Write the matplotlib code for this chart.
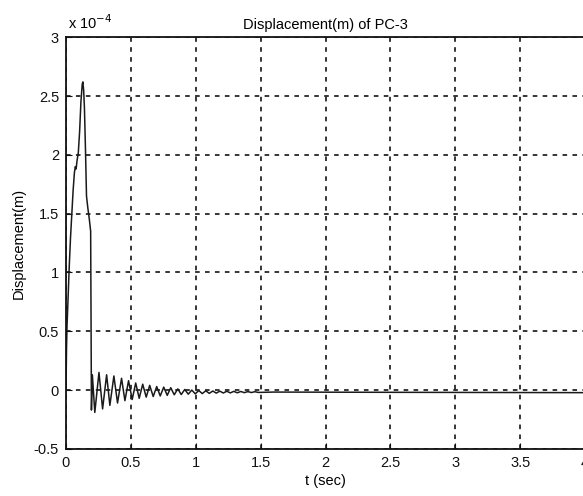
import numpy as np
import matplotlib
matplotlib.use("Agg")
from matplotlib import pyplot as plt

# Displacement of PC-3 (units of 1e-4 m) against time in seconds.
# Impact pulse first, then the ringing (listed peak by peak), then the flat tail.
pulse_t = [0.000, 0.004, 0.008, 0.015, 0.025, 0.035, 0.045, 0.055, 0.065,
           0.072, 0.078, 0.085, 0.095, 0.105, 0.115, 0.125, 0.130, 0.136,
           0.142, 0.150, 0.158, 0.168, 0.180, 0.190, 0.193, 0.196]
pulse_d = [0.00, 0.35, 0.55, 0.75, 1.05, 1.30, 1.50, 1.70, 1.85,
           1.90, 1.88, 1.95, 2.02, 2.20, 2.45, 2.60, 2.62, 2.55,
           2.40, 2.05, 1.65, 1.55, 1.45, 1.35, 0.60, -0.17]

ring_t = [0.203, 0.222, 0.254, 0.282, 0.313, 0.338, 0.369, 0.397, 0.428,
          0.454, 0.482, 0.510, 0.537, 0.564, 0.591, 0.618, 0.645, 0.672,
          0.699, 0.726, 0.753, 0.780, 0.807, 0.834, 0.861, 0.888, 0.915,
          0.942, 0.969, 0.996, 1.023, 1.050, 1.077, 1.104, 1.131, 1.158,
          1.185, 1.212, 1.239, 1.266, 1.293, 1.320, 1.347, 1.374, 1.401,
          1.428, 1.455, 1.482]
ring_d = [0.13, -0.19, 0.15, -0.16, 0.13, -0.13, 0.12, -0.11, 0.10,
          -0.09, 0.08, -0.08, 0.06, -0.07, 0.05, -0.06, 0.04, -0.055,
          0.03, -0.05, 0.025, -0.045, 0.02, -0.04, 0.01, -0.038, 0.005,
          -0.035, 0.0, -0.032, -0.004, -0.03, -0.006, -0.028, -0.008, -0.026,
          -0.009, -0.025, -0.010, -0.024, -0.011, -0.023, -0.012, -0.022, -0.013,
          -0.021, -0.014, -0.020]

tail_t = [1.6, 2.0, 3.0, 4.0]
tail_d = [-0.017, -0.018, -0.020, -0.022]

t = np.array(pulse_t + ring_t + tail_t)
disp = np.array(pulse_d + ring_d + tail_d)

xticks = np.arange(0, 4.01, 0.5)
yticks = np.arange(-0.5, 3.01, 0.5)
xticklabels = ["0", "0.5", "1", "1.5", "2", "2.5", "3", "3.5", "4"]
yticklabels = ["-0.5", "0", "0.5", "1", "1.5", "2", "2.5", "3"]

plt.rcParams["font.family"] = ["Liberation Sans", "DejaVu Sans"]

fig = plt.figure(figsize=(5.83, 4.96), dpi=100)
ax = fig.add_axes([0.1132, 0.095, 0.8905, 0.830])

ax.plot(t, disp, color="#1a1a1a", linewidth=1.1)

ax.set_xlim(0, 4)
ax.set_ylim(-0.5, 3)
ax.set_xticks(xticks)
ax.set_xticklabels(xticklabels)
ax.set_yticks(yticks)
ax.set_yticklabels(yticklabels)
ax.tick_params(axis="both", direction="in", length=4, labelsize=10.5,
               colors="#111111", pad=5)

# MATLAB style dotted grid
ax.grid(True, color="black", linestyle=(0, (3, 3.5)), linewidth=1.1)
for side in ax.spines.values():
    side.set_linewidth(1.3)
    side.set_color("#111111")

ax.set_title("Displacement(m) of PC-3", fontsize=10.5, pad=6)
ax.set_xlabel("t (sec)", fontsize=10.5, labelpad=3)
ax.set_ylabel("Displacement(m)", fontsize=10.5, labelpad=6)
ax.text(0.004, 1.012, "x 10$^{-4}$", transform=ax.transAxes,
        fontsize=10.5, ha="left", va="bottom")

fig.savefig("out.png", dpi=100)
